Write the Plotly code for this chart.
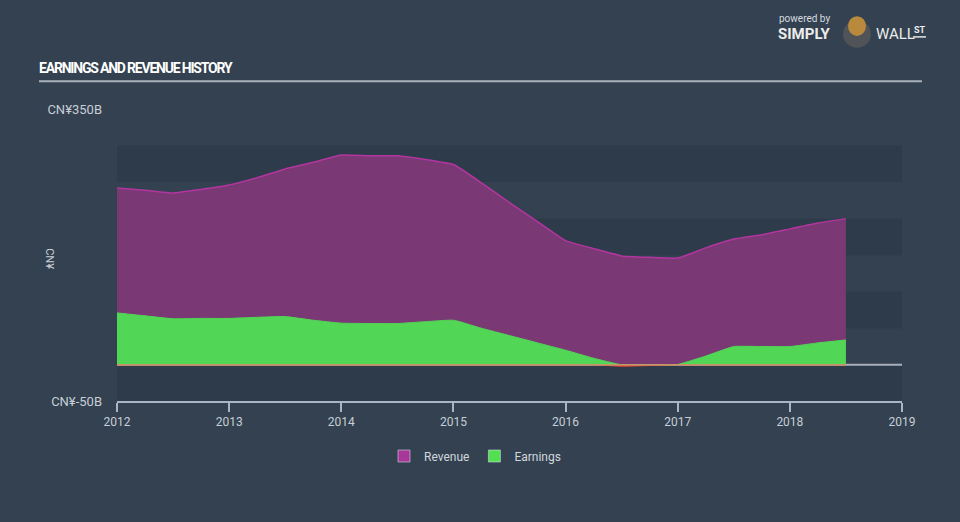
import plotly.graph_objects as go

# ---- data (CN¥ billions) ----
periods = [2012.0, 2012.25, 2012.5, 2012.75, 2013.0, 2013.25, 2013.5, 2013.75,
           2014.0, 2014.25, 2014.5, 2014.75, 2015.0, 2015.25, 2015.5, 2015.75,
           2016.0, 2016.25, 2016.5, 2016.75, 2017.0, 2017.25, 2017.5, 2017.75,
           2018.0, 2018.25, 2018.5]
revenue = [242, 239, 235, 240, 246, 256, 268, 277,
           287, 286, 286, 281, 274, 249, 222, 196,
           170, 159, 149, 147, 146, 160, 172, 178,
           186, 194, 200]
earnings = [71, 67, 63, 63.5, 63.5, 65, 66, 61,
            57, 56.5, 56.5, 59, 61, 50, 40, 30,
            20, 9, -2, -1, 0.5, 12, 25, 25,
            25, 30, 34]
year_ticks = [2012, 2013, 2014, 2015, 2016, 2017, 2018, 2019]
y_tick_vals = [-50, 350]
y_tick_text = ["CN¥-50B", "CN¥350B"]
band_ranges = [(-50, 0), (50, 100), (150, 200), (250, 300)]

earn_pos = [max(e, 0) for e in earnings]
earn_neg = [min(e, 0) for e in earnings]

BG = "#334150"
BAND = "#2e3b4a"
FONT = "Roboto, Open Sans, DejaVu Sans, sans-serif"

L, T, B = 117, 109, 117
PW, PH = 785, 296


def px(xp):
    return (xp - L) / PW


def py(yp):
    return (T + PH - yp) / PH


fig = go.Figure()

fig.add_trace(go.Scatter(
    x=periods, y=revenue, name="Revenue", mode="lines", showlegend=False,
    line=dict(color="#b3359f", width=1.5, shape="spline", smoothing=0.4),
    fill="tozeroy", fillcolor="#7a3875", hoverinfo="skip"))
fig.add_trace(go.Scatter(
    x=periods, y=earn_pos, name="Earnings", mode="lines", showlegend=False,
    line=dict(color="#52d655", width=1, shape="spline", smoothing=0.4),
    fill="tozeroy", fillcolor="#52d655", hoverinfo="skip"))
fig.add_trace(go.Scatter(
    x=periods, y=earn_neg, name="Loss", mode="lines", showlegend=False,
    line=dict(color="#e8413c", width=1, shape="spline", smoothing=0.4),
    fill="tozeroy", fillcolor="#e8413c", hoverinfo="skip"))
fig.add_trace(go.Scatter(
    x=[periods[0], periods[-1]], y=[0, 0], mode="lines", showlegend=False,
    line=dict(color="#c9a46c", width=1.2), hoverinfo="skip"))
# legend entries (square swatches)
fig.add_trace(go.Bar(x=[None], y=[None], name="Revenue", marker=dict(color="#a8379a")))
fig.add_trace(go.Bar(x=[None], y=[None], name="Earnings", marker=dict(color="#52e052")))

shapes = []
for lo, hi in band_ranges:
    shapes.append(dict(type="rect", xref="paper", x0=0, x1=1, yref="y", y0=lo, y1=hi,
                       fillcolor=BAND, line=dict(width=0), layer="below"))
shapes.append(dict(type="line", xref="paper", x0=0, x1=1, yref="y", y0=0, y1=0,
                   line=dict(color="#a7b0bb", width=2), layer="below"))
shapes.append(dict(type="line", xref="paper", x0=px(39), x1=px(922),
                   yref="paper", y0=py(81), y1=py(81),
                   line=dict(color="#a9b1ba", width=2)))
shapes.append(dict(type="circle", xref="paper", yref="paper",
                   x0=px(843), x1=px(871), y0=py(47), y1=py(19),
                   fillcolor="#505357", line=dict(width=0)))
shapes.append(dict(type="circle", xref="paper", yref="paper",
                   x0=px(848), x1=px(866), y0=py(35), y1=py(15),
                   fillcolor="#b98a3e", line=dict(width=0)))
shapes.append(dict(type="line", xref="paper", yref="paper",
                   x0=px(913), x1=px(926), y0=py(36), y1=py(36),
                   line=dict(color="#e6e6e6", width=1.5)))

annotations = [
    dict(text="CN¥", textangle=90, xref="paper", yref="paper", xanchor="center", yanchor="middle",
         x=px(50), y=py(260), showarrow=False,
         font=dict(family=FONT, size=11, color="#c7ced6")),
    dict(text="powered by", xref="paper", yref="paper", x=px(777), xanchor="left", yanchor="middle",
         y=py(17), showarrow=False, font=dict(family=FONT, size=10, color="#d6dbe0")),
    dict(text="<b>SIMPLY</b>", xref="paper", yref="paper", x=px(776), xanchor="left", yanchor="middle",
         y=py(33), showarrow=False, font=dict(family=FONT, size=15, color="#ececec")),
    dict(text="WALL", xref="paper", yref="paper", x=px(874), xanchor="left", yanchor="middle",
         y=py(33), showarrow=False, font=dict(family=FONT, size=15, color="#ececec")),
    dict(text="<b>ST</b>", xref="paper", yref="paper", x=px(912), xanchor="left", yanchor="middle",
         y=py(29), showarrow=False, font=dict(family=FONT, size=9, color="#ececec")),
]

fig.update_layout(
    width=960, height=522,
    margin=dict(l=L, r=960 - L - PW, t=T, b=B),
    paper_bgcolor=BG, plot_bgcolor="rgba(0,0,0,0)",
    font=dict(family=FONT, color="#c7ced6", size=12),
    title=dict(text='<span style="letter-spacing:-1.2px"><b>EARNINGS AND REVENUE HISTORY</b></span>',
               xref="container", yref="container",
               x=39 / 960, xanchor="left", y=1 - 68 / 522, yanchor="middle",
               font=dict(family="Roboto, sans-serif", size=14, color="#ffffff")),
    xaxis=dict(range=[2012, 2019], tickvals=year_ticks, ticktext=[str(y) for y in year_ticks],
               showgrid=False, zeroline=False, showline=True, linecolor="#a9b6c4", linewidth=1.5,
               ticks="outside", ticklen=9, tickcolor="#a9b6c4", tickwidth=1.5,
               tickfont=dict(size=12, color="#c7ced6"), fixedrange=True),
    yaxis=dict(range=[-50, 350], tickvals=y_tick_vals, ticktext=y_tick_text,
               showgrid=False, zeroline=False, showline=False, ticks="",
               ticklabelstandoff=14, tickfont=dict(size=13, color="#c7ced6"), fixedrange=True),
    legend=dict(orientation="h", xref="container", yref="container", x=475 / 960, xanchor="center",
                y=1 - 456 / 522, yanchor="middle", font=dict(size=12, color="#d0d6dc"),
                bgcolor="rgba(0,0,0,0)"),
    shapes=shapes, annotations=annotations,
    hovermode=False,
)

fig.write_html("out.html")
